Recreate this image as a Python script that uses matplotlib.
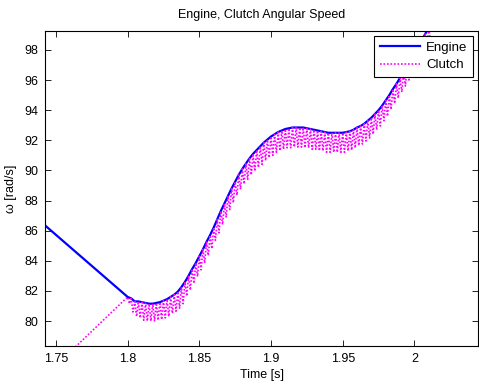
import numpy as np
import matplotlib
matplotlib.use("Agg")
import matplotlib.pyplot as plt

plt.rcParams['font.family'] = ['Liberation Sans', 'DejaVu Sans']

## Engine angular speed (rad/s) ##
# first point is the left edge, then a regular 2.5 ms grid from 1.800 s
engine_t0 = 1.7424
engine_w0 = 86.35
grid_t = np.round(np.arange(1.800, 2.0151, 0.0025), 5)
engine_w = [81.6, 81.5, 81.3, 81.3, 81.25, 81.2, 81.15, 81.15, 81.2, 81.25,
            81.35, 81.45, 81.6, 81.75, 81.95, 82.25, 82.6, 83.0, 83.45, 83.85,
            84.3, 84.75, 85.25, 85.7, 86.2, 86.75, 87.3, 87.8, 88.3, 88.8,
            89.25, 89.7, 90.1, 90.45, 90.8, 91.1, 91.35, 91.6, 91.85, 92.05,
            92.25, 92.4, 92.55, 92.65, 92.75, 92.8, 92.85, 92.85, 92.85, 92.85,
            92.8, 92.75, 92.7, 92.65, 92.6, 92.55, 92.5, 92.5, 92.5, 92.5,
            92.5, 92.55, 92.6, 92.7, 92.85, 92.95, 93.1, 93.3, 93.5, 93.75,
            94.0, 94.3, 94.65, 95.0, 95.4, 95.75, 96.15, 96.55, 96.95, 97.35,
            97.75, 98.15, 98.6, 99.05, 99.5, 99.95, 100.4]

## Clutch: linear ramp before lock-up ##
clutch_ramp_t = [1.760, 1.800]
clutch_ramp_w = [77.95, 81.45]

## Clutch ripple: it swings between engine speed and this lower envelope ##
clutch_lo_w = [81.15, 80.6, 80.3, 80.2, 80.05, 80.0, 80.0, 80.0, 80.05, 80.1,
               80.2, 80.3, 80.5, 80.65, 80.85, 81.15, 81.65, 82.05, 82.5, 82.95,
               83.4, 83.85, 84.35, 84.8, 85.35, 85.85, 86.4, 86.9, 87.4, 87.85,
               88.35, 88.75, 89.1, 89.4, 89.7, 89.95, 90.2, 90.4, 90.65, 90.85,
               91.0, 91.2, 91.3, 91.4, 91.5, 91.5, 91.55, 91.55, 91.55, 91.5,
               91.5, 91.4, 91.4, 91.3, 91.3, 91.2, 91.2, 91.2, 91.2, 91.2,
               91.2, 91.3, 91.35, 91.5, 91.65, 91.75, 91.95, 92.15, 92.4, 92.7,
               92.95, 93.3, 93.6, 94.05, 94.45, 94.8, 95.2, 95.6, 96.0, 96.4,
               96.8, 97.25, 97.65, 98.15, 98.55]

# interleave engine-level peaks (on the grid) and troughs (half a step later)
n = len(clutch_lo_w)
clutch_t = [clutch_ramp_t[0]]
clutch_w = [clutch_ramp_w[0]]
for i in range(n):
    clutch_t += [grid_t[i], grid_t[i] + 0.00125]
    clutch_w += [engine_w[i], clutch_lo_w[i]]

fig = plt.figure(figsize=(4.79, 3.83), dpi=100)
ax = fig.add_axes([0.094, 0.0966, 0.904, 0.8225])

ax.plot([engine_t0] + list(grid_t), [engine_w0] + engine_w,
        color=(0, 0, 1), linewidth=1.6, label="Engine")
ax.plot(clutch_t, clutch_w, color=(1, 0, 1), linewidth=1.2,
        linestyle=(0, (1, 1.1)), label="Clutch")

ax.set_xlim(1.7424, 2.0444)
ax.set_ylim(78.34, 99.26)
ax.set_xticks([1.75, 1.8, 1.85, 1.9, 1.95, 2.0])
ax.set_xticklabels(["1.75", "1.8", "1.85", "1.9", "1.95", "2"])
ax.set_yticks(np.arange(80, 99, 2))

ax.tick_params(direction='in', top=True, right=True, length=4, width=0.6, labelsize=9, pad=5)
for s in ax.spines.values():
    s.set_linewidth(0.8)

ax.set_title("Engine, Clutch Angular Speed", fontsize=9, pad=9)
ax.set_xlabel("Time [s]", fontsize=9, labelpad=3)
ax.set_ylabel("ω [rad/s]", fontsize=9, labelpad=5)

leg = ax.legend(loc='upper right', fontsize=9.5, fancybox=False, framealpha=1,
                edgecolor='black', borderaxespad=0.35, handlelength=3.0,
                handletextpad=0.5, borderpad=0.45, labelspacing=0.4)
leg.get_frame().set_linewidth(0.8)

fig.savefig("out.png", dpi=100)
